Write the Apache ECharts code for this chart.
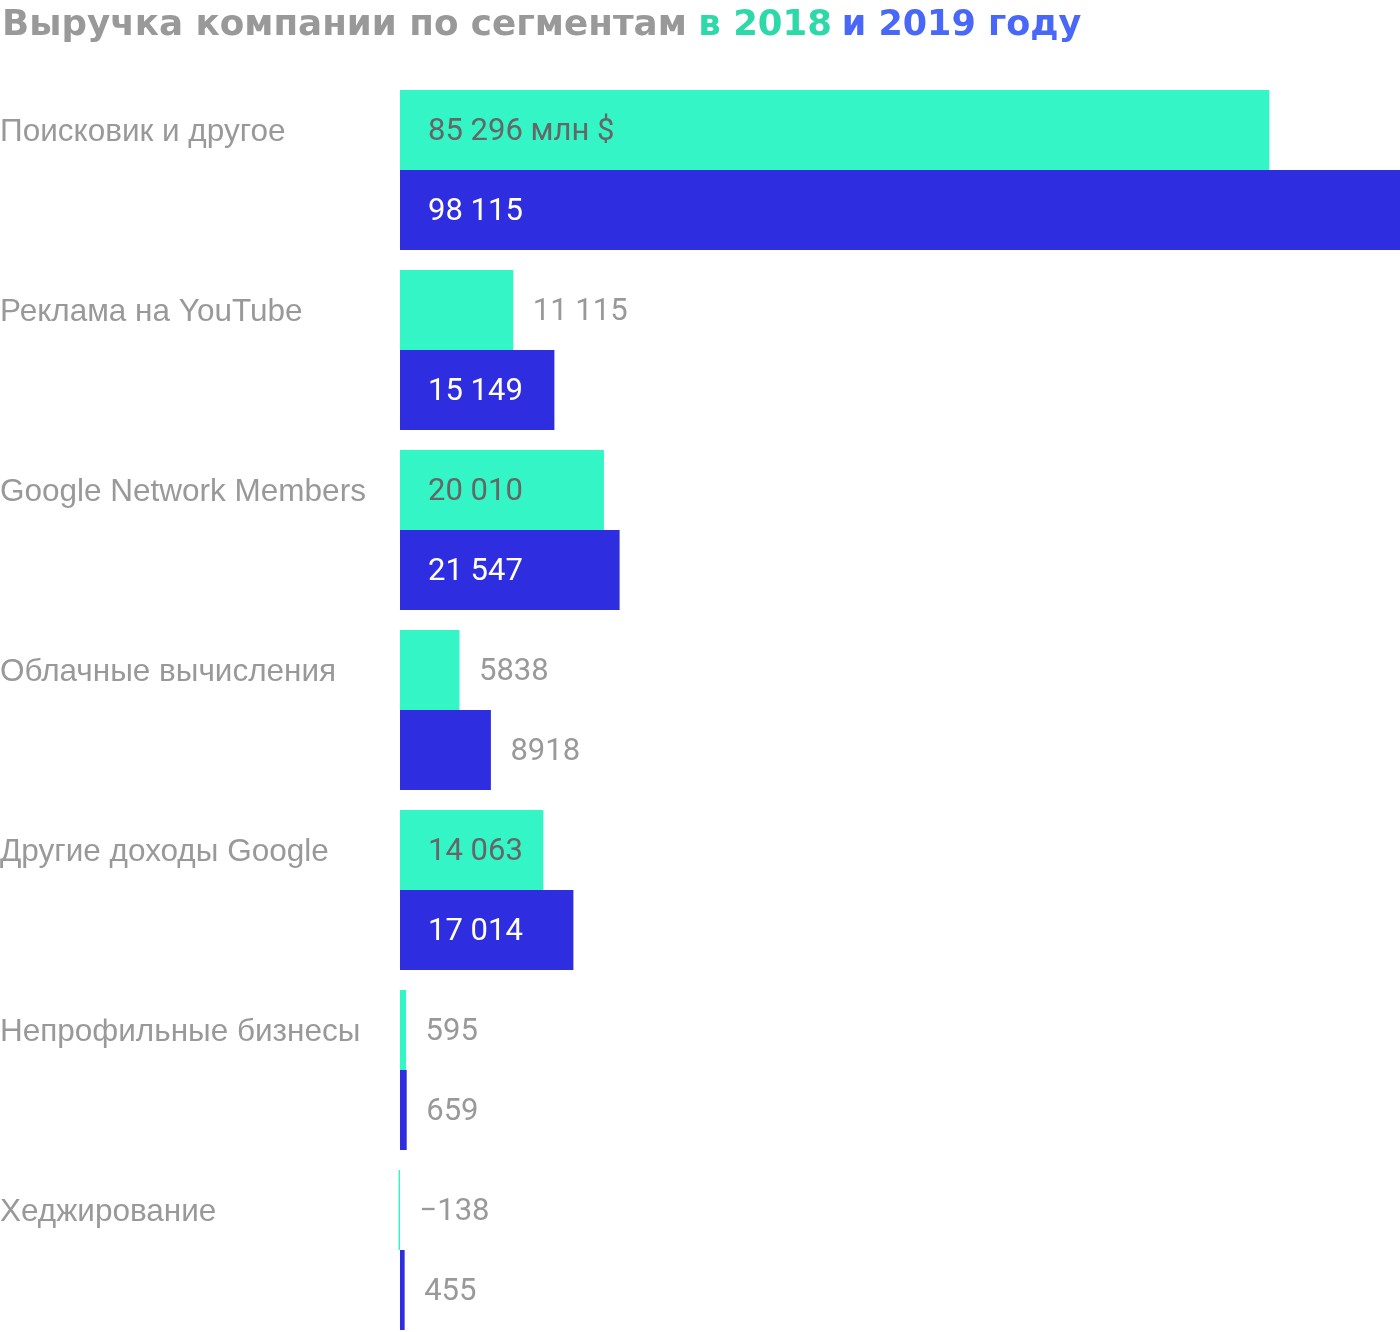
<!DOCTYPE html>
<html>
<head>
<meta charset="utf-8">
<script src="https://cdn.jsdelivr.net/npm/echarts@6/dist/echarts.min.js"></script>
<style>
html,body{margin:0;padding:0;background:#fff;}
#chart{width:1400px;height:1332px;}
</style>
</head>
<body>
<div id="chart"></div>
<script>
const categories = ['Поисковик и другое','Реклама на YouTube','Google Network Members','Облачные вычисления','Другие доходы Google','Непрофильные бизнесы','Хеджирование'];
const values2018 = [85296, 11115, 20010, 5838, 14063, 595, -138];
const values2019 = [98115, 15149, 21547, 8918, 17014, 659, 455];
const unitSuffix = ' млн $';

const xMin = -138, xMax = 98115;
function fmt(v){
  const a = Math.abs(v);
  let s = String(a);
  if (a >= 10000) s = s.replace(/\B(?=(\d{3})+(?!\d))/g, '\u00a0');
  return (v < 0 ? '\u2212' : '') + s;
}
const VFONT = 'Roboto, "Liberation Sans", sans-serif';
const CFONT = '"Liberation Sans", Arial, sans-serif';
const TFONT = '"DejaVu Sans", sans-serif';
function makeData(vals, insideColor, isFirst){
  return vals.map((v, i) => {
    const inside = v >= 12000;
    const text = fmt(v) + (isFirst && i === 0 ? unitSuffix : '');
    return {
      value: v,
      label: inside ? {
        show: true, position: 'insideLeft', distance: 28, offset: [0, 2], color: insideColor,
        fontSize: 31, fontFamily: VFONT, formatter: () => text
      } : {
        show: true, position: 'right', distance: 19.5, offset: [0, 2], color: '#999999',
        fontSize: 31, fontFamily: VFONT, formatter: () => text
      }
    };
  });
}
const chart = echarts.init(document.getElementById('chart'), null, {renderer:'canvas'});
const W = 1400;
const f = (0 - xMin) / (xMax - xMin);
const L = (400 - f * W) / (1 - f);
chart.setOption({
  animation: false,
  backgroundColor: '#ffffff',
  title: {
    left: -3, top: 3,
    text: '{a|Выручка компании по сегментам}{s| }{b|в 2018}{t| }{c|и 2019 году}',
    textStyle: {
      rich: {
        a: {fontSize: 35.7, fontWeight: 'bold', color: '#999999', fontFamily: TFONT},
        s: {fontSize: 33, fontWeight: 'bold', color: '#999999', fontFamily: TFONT},
        t: {fontSize: 28, fontWeight: 'bold', color: '#999999', fontFamily: TFONT},
        b: {fontSize: 35.5, fontWeight: 'bold', color: '#2ED9A9', fontFamily: TFONT},
        c: {fontSize: 35, fontWeight: 'bold', color: '#4A68F7', fontFamily: TFONT}
      }
    }
  },
  grid: {left: L, right: 0, top: 80, height: 1260, containLabel: false, outerBoundsMode: 'none'},
  xAxis: {
    type: 'value', min: xMin, max: xMax, show: false
  },
  yAxis: {
    type: 'category', data: categories, inverse: true,
    axisLine: {show: false, onZero: false}, axisTick: {show: false}, splitLine: {show: false},
    axisLabel: {
      align: 'left', margin: L, color: '#999999', fontSize: 31.5,
      fontFamily: CFONT,
      formatter: v => '{n|' + v + '}\n{e| }',
      rich: {
        n: {fontSize: 31.5, fontFamily: CFONT, color: '#999999', lineHeight: 80},
        e: {fontSize: 10, lineHeight: 76}
      }
    }
  },
  series: [
    {type: 'bar', name: '2018', data: makeData(values2018, '#666666', true),
     itemStyle: {color: '#33F5C5'}, barGap: '0%', barCategoryGap: (20/180*100) + '%'},
    {type: 'bar', name: '2019', data: makeData(values2019, '#ffffff', false),
     itemStyle: {color: '#2E2EE0'}, barGap: '0%', barCategoryGap: (20/180*100) + '%'}
  ]
});
</script>
</body>
</html>
